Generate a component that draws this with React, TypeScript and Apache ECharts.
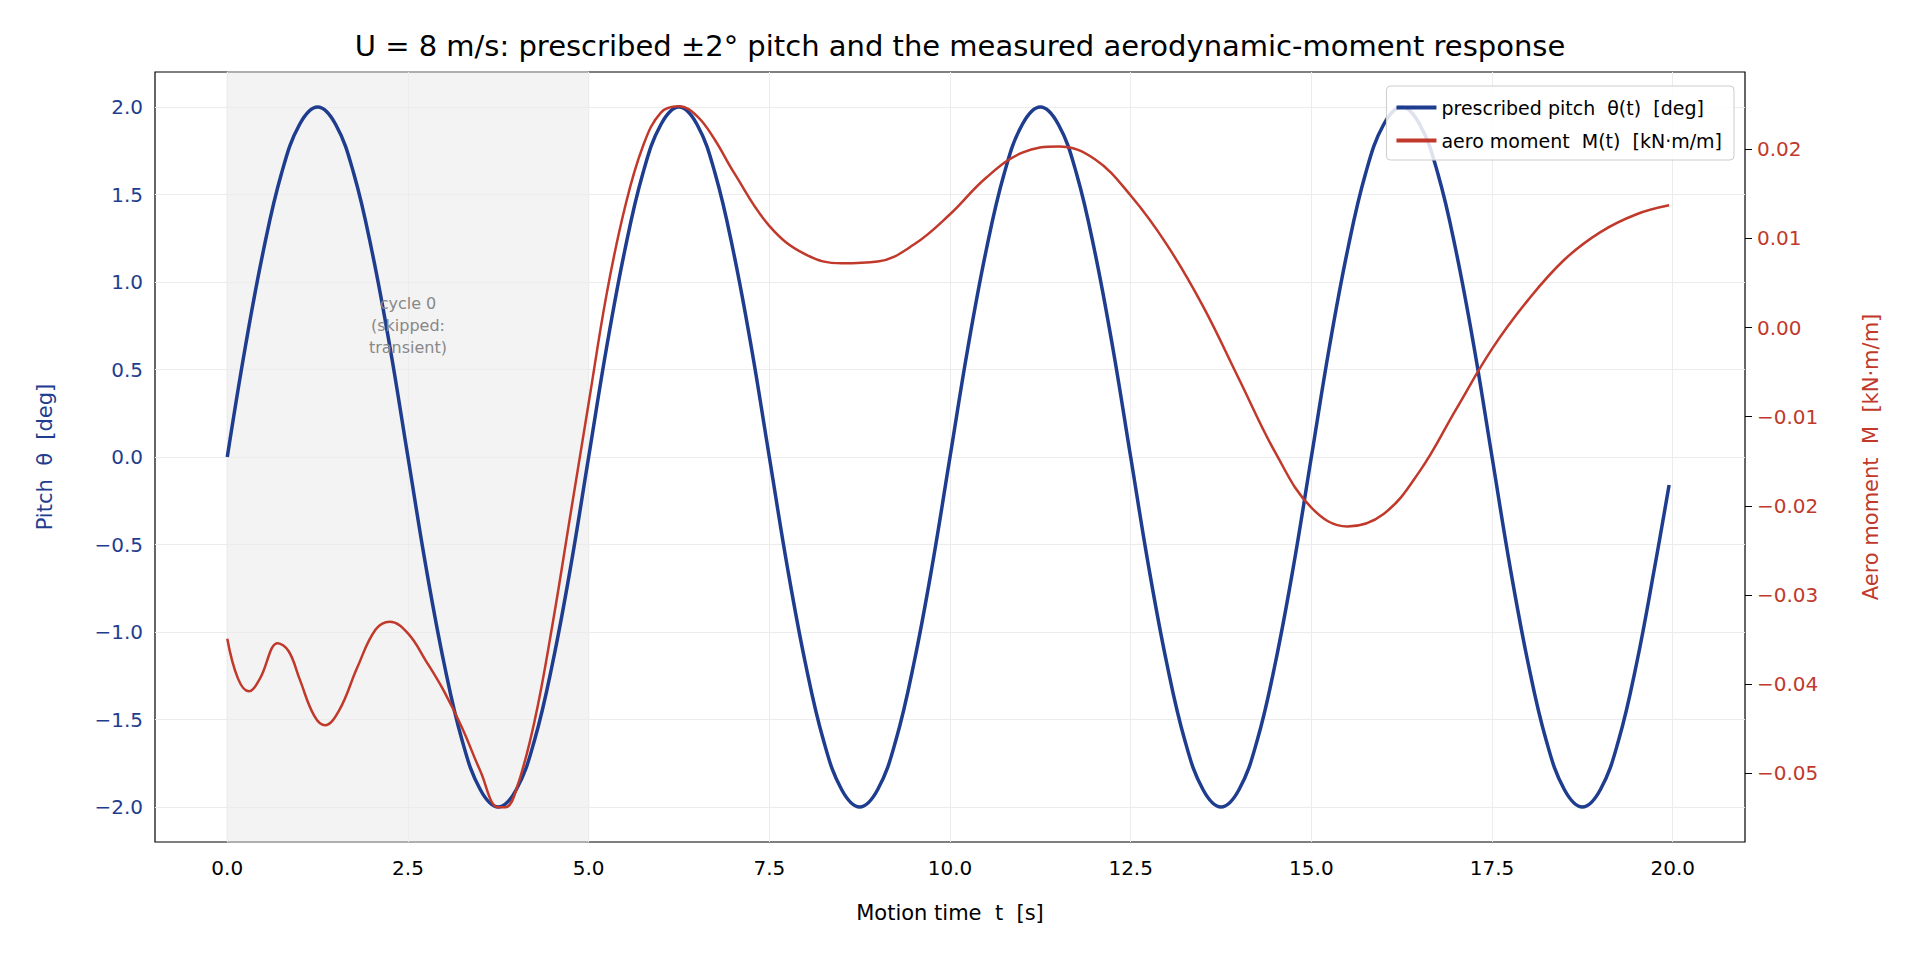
import * as echarts from "echarts";
import { useEffect, useRef } from "react";

// ----- data -----
const pitchT = [
  0, 0.25, 0.5, 0.75, 1, 1.25, 1.5, 1.75, 2, 2.25, 2.5, 2.75, 3, 3.25, 3.5, 3.75, 4, 4.25, 4.5, 4.75,
  5, 5.25, 5.5, 5.75, 6, 6.25, 6.5, 6.75, 7, 7.25, 7.5, 7.75, 8, 8.25, 8.5, 8.75, 9, 9.25, 9.5, 9.75,
  10, 10.25, 10.5, 10.75, 11, 11.25, 11.5, 11.75, 12, 12.25, 12.5, 12.75, 13, 13.25, 13.5, 13.75, 14, 14.25, 14.5, 14.75,
  15, 15.25, 15.5, 15.75, 16, 16.25, 16.5, 16.75, 17, 17.25, 17.5, 17.75, 18, 18.25, 18.5, 18.75, 19, 19.25, 19.5, 19.75, 19.95,
];
const pitchDeg = [
  0, 0.63, 1.18, 1.62, 1.9, 2, 1.9, 1.62, 1.18, 0.63, 0, -0.63, -1.18, -1.62, -1.9, -2, -1.9, -1.62, -1.18, -0.63,
  0, 0.63, 1.18, 1.62, 1.9, 2, 1.9, 1.62, 1.18, 0.63, 0, -0.63, -1.18, -1.62, -1.9, -2, -1.9, -1.62, -1.18, -0.63,
  0, 0.63, 1.18, 1.62, 1.9, 2, 1.9, 1.62, 1.18, 0.63, 0, -0.63, -1.18, -1.62, -1.9, -2, -1.9, -1.62, -1.18, -0.63,
  0, 0.63, 1.18, 1.62, 1.9, 2, 1.9, 1.62, 1.18, 0.63, 0, -0.63, -1.18, -1.62, -1.9, -2, -1.9, -1.62, -1.18, -0.63, -0.16,
];
const momentT = [
  0, 0.15, 0.3, 0.45, 0.7, 0.85, 1.0, 1.2, 1.35, 1.55, 1.8, 2.05, 2.25, 2.5, 2.75, 3.0, 3.25, 3.5, 3.75, 3.85,
  4.0, 4.25, 4.5, 4.75, 5.0, 5.25, 5.5, 5.75, 6.0, 6.25, 6.5, 6.75, 7.0, 7.5, 8.0, 8.5, 9.0, 9.5, 10.0, 10.5,
  11.0, 11.5, 12.0, 12.5, 13.0, 13.5, 14.0, 14.5, 15.0, 15.5, 16.0, 16.5, 17.0, 17.5, 18.0, 18.5, 19.0, 19.5, 19.95,
];
const momentKN = [
  -0.0349, -0.0394, -0.0408, -0.0394, -0.0354, -0.0363, -0.0394, -0.0435, -0.0446, -0.0429, -0.0381, -0.0339, -0.033, -0.0343, -0.0374, -0.0408, -0.0449, -0.0497, -0.0538, -0.0538,
  -0.0518, -0.0442, -0.0333, -0.0209, -0.0085, 0.0038, 0.0134, 0.0203, 0.0241, 0.0248, 0.0237, 0.021, 0.0175, 0.0114, 0.0082, 0.0072, 0.0074, 0.0093, 0.0127, 0.0168,
  0.0196, 0.0203, 0.0189, 0.0148, 0.0093, 0.0024, -0.0058, -0.014, -0.0202, -0.0223, -0.0209, -0.0161, -0.0092, -0.0024, 0.0031, 0.0076, 0.0107, 0.0127, 0.0137,
];
const xTicks = [0, 2.5, 5, 7.5, 10, 12.5, 15, 17.5, 20];
const leftTicks = [-2, -1.5, -1, -0.5, 0, 0.5, 1, 1.5, 2];
const rightTicks = [-0.05, -0.04, -0.03, -0.02, -0.01, 0, 0.01, 0.02];

const BLUE = "#1f3d8f";
const RED = "#c0392b";
const FONT = "DejaVu Sans";
const minus = (s: string) => s.replace("-", "\u2212");

export default function App() {
  const ref = useRef<HTMLDivElement | null>(null);

  useEffect(() => {
    if (!ref.current) return;
    document.body.style.margin = "0";
    const chart = echarts.init(ref.current, null, { renderer: "svg" });
    const grid = "#ececec";

    chart.setOption({
      animation: false,
      textStyle: { fontFamily: FONT },
      title: {
        text: "U = 8 m/s: prescribed \u00b12\u00b0 pitch and the measured aerodynamic-moment response",
        left: "center",
        top: 26,
        textStyle: { fontFamily: FONT, fontSize: 29, fontWeight: "normal", color: "#000" },
      },
      grid: { left: 155, right: 175, top: 72, bottom: 118, show: true, borderColor: "#000", borderWidth: 1.2 },
      legend: {
        right: 186,
        top: 86,
        orient: "vertical",
        itemWidth: 40,
        itemHeight: 4,
        icon: "rect",
        itemGap: 14,
        padding: [12, 12, 10, 10],
        borderColor: "#cccccc",
        borderWidth: 1,
        borderRadius: 4,
        backgroundColor: "rgba(255,255,255,0.85)",
        textStyle: { fontFamily: FONT, fontSize: 19, color: "#000" },
      },
      xAxis: {
        type: "value",
        min: -1,
        max: 21,
        name: "Motion time  t  [s]",
        nameLocation: "middle",
        nameGap: 60,
        nameTextStyle: { fontFamily: FONT, fontSize: 21, color: "#000" },
        axisLine: { show: false },
        axisTick: { show: true, customValues: xTicks, length: 7, lineStyle: { color: "#000" } },
        axisLabel: {
          customValues: xTicks,
          fontSize: 20,
          color: "#000",
          margin: 16,
          formatter: (v: number) => minus(v.toFixed(1)),
        },
        splitLine: { show: false },
      },
      yAxis: [
        {
          type: "value",
          min: -2.2,
          max: 2.2,
          name: "Pitch  \u03b8  [deg]",
          nameLocation: "middle",
          nameGap: 100,
          nameTextStyle: { fontFamily: FONT, fontSize: 21, color: BLUE },
          axisLine: { show: false },
          axisTick: { show: true, customValues: leftTicks, length: 7, lineStyle: { color: "#000" } },
          axisLabel: {
            customValues: leftTicks,
            fontSize: 20,
            color: BLUE,
            margin: 12,
            formatter: (v: number) => minus(v.toFixed(1)),
          },
          splitLine: { show: false },
        },
        {
          type: "value",
          position: "right",
          min: -0.05769,
          max: 0.02865,
          name: "Aero moment  M  [kN\u00b7m/m]",
          nameLocation: "middle",
          nameGap: 115,
          nameRotate: 90,
          nameTextStyle: { fontFamily: FONT, fontSize: 21, color: RED },
          axisLine: { show: false },
          axisTick: { show: true, customValues: rightTicks, length: 7, lineStyle: { color: "#000" } },
          axisLabel: {
            customValues: rightTicks,
            fontSize: 20,
            color: RED,
            margin: 12,
            formatter: (v: number) => minus(v.toFixed(2)),
          },
          splitLine: { show: false },
        },
      ],
      series: [
        {
          name: "prescribed pitch  \u03b8(t)  [deg]",
          type: "line",
          yAxisIndex: 0,
          showSymbol: false,
          smooth: 0.4,
          lineStyle: { color: BLUE, width: 3.5 },
          itemStyle: { color: BLUE },
          data: pitchT.map((t, i) => [t, pitchDeg[i]]),
          markArea: {
            silent: true,
            itemStyle: { color: "rgba(150,150,150,0.11)", borderColor: "#dddddd", borderWidth: 1 },
            data: [[{ xAxis: 0 }, { xAxis: 5 }]],
          },
          markLine: {
            silent: true,
            symbol: "none",
            label: { show: false },
            z: 1,
            lineStyle: { color: grid, width: 1, type: "solid" },
            data: [
              ...xTicks.map((v) => ({ xAxis: v })),
              ...leftTicks.map((v) => ({ yAxis: v })),
            ],
          },
          markPoint: {
            silent: true,
            symbolSize: 0,
            data: [{ coord: [2.5, 0.75], value: "" }],
            label: {
              show: true,
              formatter: "cycle 0\n(skipped:\ntransient)",
              color: "#888888",
              fontSize: 16,
              lineHeight: 22,
              align: "center",
              verticalAlign: "middle",
            },
          },
          z: 3,
        },
        {
          name: "aero moment  M(t)  [kN\u00b7m/m]",
          type: "line",
          yAxisIndex: 1,
          showSymbol: false,
          smooth: 0.4,
          lineStyle: { color: RED, width: 2.5 },
          itemStyle: { color: RED },
          data: momentT.map((t, i) => [t, momentKN[i]]),
          z: 4,
        },
      ],
    });

    return () => chart.dispose();
  }, []);

  return <div ref={ref} style={{ width: 1920, height: 960 }} />;
}
